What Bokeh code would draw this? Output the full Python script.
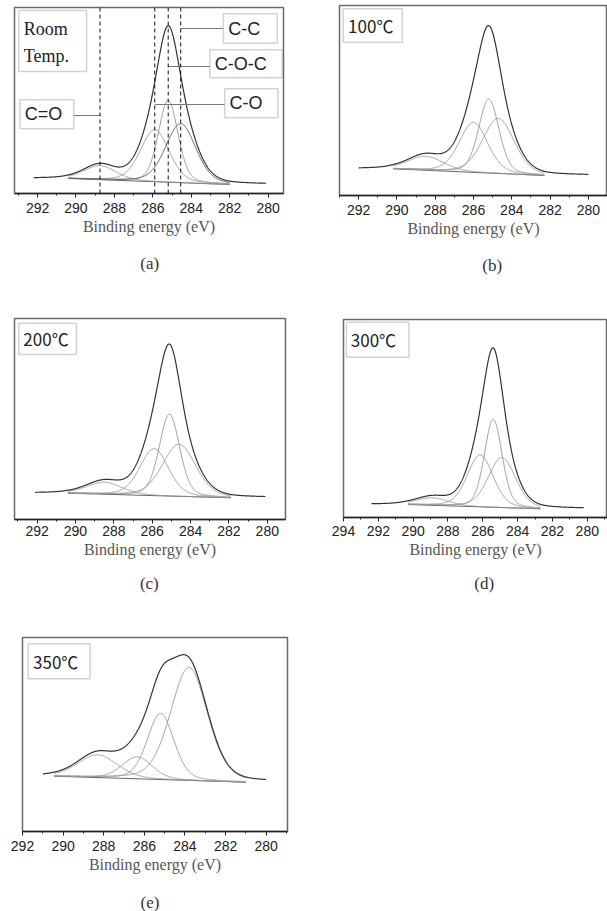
import numpy as np
from bokeh.plotting import figure
from bokeh.layouts import column, row
from bokeh.models import Range1d, SingleIntervalTicker, Span, BoxAnnotation, Label
from bokeh.embed import file_html
from bokeh.resources import INLINE

# ---------------- data ----------------
peak_names = ["C=O", "C-O", "C-O-C", "C-C"]
captions = ["(a)", "(b)", "(c)", "(d)", "(e)"]
temp_labels = ["Room Temp.", "100℃", "200℃", "300℃", "350℃"]
x_label = "Binding energy (eV)"

# measured scan range (eV)
scan_start = [292.2, 292.0, 292.1, 292.4, 291.0]
scan_end = [280.1, 280.0, 280.1, 280.2, 280.0]

# background (Shirley-like) end points: energy (eV) and level (a.u.)
bg_high_energy = [290.4, 290.2, 290.4, 290.3, 290.45]
bg_low_energy = [282.0, 282.3, 281.9, 282.7, 281.0]
bg_high_level = [15.0, 26.7, 26.3, 13.0, 55.3]
bg_low_level = [9.0, 20.0, 21.7, 8.7, 49.3]

# fitted Gauss-Lorentz components: order C=O, C-O, C-O-C, C-C
centers_rt = [288.75, 285.9, 285.2, 284.55]
heights_rt = [14.0, 52.0, 82.0, 59.0]
fwhm_rt = [2.0, 1.75, 1.2, 1.85]

centers_100 = [288.5, 286.0, 285.2, 284.7]
heights_100 = [14.0, 50.0, 74.0, 55.0]
fwhm_100 = [2.2, 1.75, 1.25, 1.95]

centers_200 = [288.5, 285.9, 285.1, 284.6]
heights_200 = [12.0, 47.0, 82.0, 52.0]
fwhm_200 = [2.2, 1.75, 1.25, 2.05]

centers_300 = [288.9, 286.15, 285.4, 284.9]
heights_300 = [7.5, 52.0, 88.0, 50.0]
fwhm_300 = [2.2, 1.75, 1.2, 1.85]

centers_350 = [288.3, 286.35, 285.2, 283.8]
heights_350 = [22.7, 22.0, 66.0, 113.0]
fwhm_350 = [2.3, 1.75, 1.55, 2.15]

lorentz_fraction = 0.25

centers = [centers_rt, centers_100, centers_200, centers_300, centers_350]
heights = [heights_rt, heights_100, heights_200, heights_300, heights_350]
fwhms = [fwhm_rt, fwhm_100, fwhm_200, fwhm_300, fwhm_350]

# ---------------- layout / style (not data) ----------------
# panel figure: size, frame borders (px), x range (eV), y range top, tick label standoff;
# caption strip below it: height, caption x (eV), caption centre from strip top (px)
geom = [
    dict(w=300, h=250, left=14, right=17, top=7, bottom=57, x0=293.2, x1=279.2, ymax=186,
         lab_so=5, cap_h=50, cap_x=286.16, cap_dy=13.0),
    dict(w=307, h=250, left=39, right=0, top=5, bottom=55, x0=293.0, x1=279.0, ymax=190,
         lab_so=5, cap_h=50, cap_x=285.02, cap_dy=15.0),
    dict(w=300, h=270, left=14, right=15, top=18, bottom=51, x0=293.18, x1=279.05, ymax=201,
         lab_so=2, cap_h=30, cap_x=286.15, cap_dy=13.3),
    dict(w=307, h=270, left=43, right=0, top=19, bottom=53, x0=294.0, x1=278.84, ymax=198,
         lab_so=4, cap_h=30, cap_x=285.92, cap_dy=13.3),
    dict(w=300, h=289, left=22, right=13, top=37, bottom=58, x0=292.0, x1=278.95, ymax=194,
         lab_so=5, cap_h=22, cap_x=285.72, cap_dy=12.7),
]
# temperature boxes for (b)-(e): left E, right E, top, bottom, text x
temp_boxes = [
    None,
    (292.81, 289.72, 186.7, 153.3, 292.55),
    (292.96, 289.95, 196.3, 165.0, 292.72),
    (293.83, 290.24, 195.3, 160.3, 293.58),
    (291.72, 288.67, 187.7, 152.7, 291.48),
]
# label boxes of panel (a): left E, right E, top, bottom, connector level
rt_boxes = {
    "C=O": (292.92, 290.11, 93.7, 64.7, 78.0),
    "C-O": (282.26, 279.49, 104.7, 75.7, 89.0),
    "C-O-C": (283.03, 279.26, 143.7, 115.7, 127.0),
    "C-C": (282.33, 279.52, 179.7, 150.3, 165.0),
}

SERIF = "Liberation Serif"
SANS = "Liberation Sans"
CJK = "Noto Sans CJK KR"


def glpeak(E, c, h, w):
    d2 = ((E - c) / w) ** 2
    gpart = np.exp(-4 * np.log(2) * d2)
    lpart = 1.0 / (1.0 + 4 * d2)
    return h * ((1 - lorentz_fraction) * gpart + lorentz_fraction * lpart)


def background(E, i):
    return np.interp(E, [bg_low_energy[i], bg_high_energy[i]],
                     [bg_low_level[i], bg_high_level[i]])


def caption_strip(i):
    g = geom[i]
    c = figure(width=g["w"], height=g["cap_h"],
               x_range=Range1d(g["x0"], g["x1"]), y_range=Range1d(0, g["cap_h"]),
               output_backend="svg", toolbar_location=None,
               x_axis_location=None, y_axis_location=None,
               min_border_left=g["left"], min_border_right=g["right"],
               min_border_top=0, min_border_bottom=0)
    c.xgrid.visible = False
    c.ygrid.visible = False
    c.outline_line_color = None
    c.background_fill_color = "white"
    c.border_fill_color = "white"
    c.add_layout(Label(x=g["cap_x"], y=g["cap_h"] - g["cap_dy"], text=captions[i],
                       text_font=SERIF, text_font_size="17px",
                       text_color="#333333", text_align="center",
                       text_baseline="middle"))
    return c


panels = []
for i in range(5):
    g = geom[i]
    p = figure(width=g["w"], height=g["h"],
               x_range=Range1d(g["x0"], g["x1"]), y_range=Range1d(0, g["ymax"]),
               output_backend="svg", toolbar_location=None, y_axis_location=None,
               min_border_left=g["left"], min_border_right=g["right"],
               min_border_top=g["top"], min_border_bottom=g["bottom"])
    p.xgrid.visible = False
    p.ygrid.visible = False
    p.background_fill_color = "white"
    p.border_fill_color = "white"
    p.outline_line_color = "#6a6a6a"
    p.outline_line_width = 1.5

    ax = p.xaxis[0]
    ax.ticker = SingleIntervalTicker(interval=2, num_minor_ticks=2)
    ax.axis_line_color = "#222222"
    ax.axis_line_width = 1.5
    ax.major_tick_in = 0
    ax.major_tick_out = 4
    ax.minor_tick_in = 0
    ax.minor_tick_out = 2
    ax.major_tick_line_color = "#222222"
    ax.minor_tick_line_color = "#222222"
    ax.major_label_text_font = SANS
    ax.major_label_text_font_size = "14px"
    ax.major_label_text_color = "#222222"
    ax.major_label_standoff = g["lab_so"]
    ax.axis_label = x_label
    ax.axis_label_text_font = SERIF
    ax.axis_label_text_font_size = "16px"
    ax.axis_label_text_font_style = "normal"
    ax.axis_label_text_color = "#555555"
    ax.axis_label_standoff = 2

    # background
    p.line([bg_high_energy[i], bg_low_energy[i]], [bg_high_level[i], bg_low_level[i]],
           line_color="#666666", line_width=1)

    # components
    Ec = np.linspace(bg_high_energy[i], bg_low_energy[i], 700)
    bc = background(Ec, i)
    for k in range(4):
        col = "#555555" if (i == 0 and k == 3) else "#999999"
        p.line(Ec, bc + glpeak(Ec, centers[i][k], heights[i][k], fwhms[i][k]),
               line_color=col, line_width=1)

    # measured envelope
    Er = np.linspace(scan_start[i], scan_end[i], 1200)
    yr = background(Er, i)
    for k in range(4):
        yr = yr + glpeak(Er, centers[i][k], heights[i][k], fwhms[i][k])
    p.line(Er, yr, line_color="#333333", line_width=1.2)

    if i == 0:
        for k, name in enumerate(peak_names):
            c = centers[i][k]
            p.add_layout(Span(location=c, dimension="height", line_dash="4 3",
                              line_color="#111111", line_width=1))
            l, r, t, b, lev = rt_boxes[name]
            edge = r if l > c else l
            p.segment(x0=[c], y0=[lev], x1=[edge], y1=[lev], line_color="#777777", line_width=1)
            p.add_layout(BoxAnnotation(left=l, right=r, top=t, bottom=b,
                                       fill_color="white", fill_alpha=1,
                                       line_color="#6a6a6a", line_width=1.5))
            p.add_layout(Label(x=l - 0.25, y=(t + b) / 2, text=name,
                               text_font=SANS, text_font_size="18px",
                               text_color="#222222", text_align="left",
                               text_baseline="middle"))
        # Room Temp. box
        p.add_layout(BoxAnnotation(left=292.98, right=289.45, top=183, bottom=122,
                                   fill_color="white", fill_alpha=1,
                                   line_color="#6a6a6a", line_width=1.5))
        room, temp = temp_labels[0].split(" ")
        p.add_layout(Label(x=292.72, y=164.7, text=room, text_font=SERIF,
                           text_font_size="18px", text_color="#222222",
                           text_align="left", text_baseline="middle"))
        p.add_layout(Label(x=292.72, y=138.0, text=temp, text_font=SERIF,
                           text_font_size="18px", text_color="#222222",
                           text_align="left", text_baseline="middle"))
    else:
        l, r, t, b, tx = temp_boxes[i]
        p.add_layout(BoxAnnotation(left=l, right=r, top=t, bottom=b,
                                   fill_color="white", fill_alpha=1,
                                   line_color="#6a6a6a", line_width=1.5))
        p.add_layout(Label(x=tx, y=(t + b) / 2, text=temp_labels[i], text_font=CJK,
                           text_font_size="17px", text_color="#222222",
                           text_align="left", text_baseline="middle"))
    panels.append(column(p, caption_strip(i)))

layout = column(row(panels[0], panels[1]), row(panels[2], panels[3]), row(panels[4]))
open("out.html", "w").write(file_html(layout, INLINE))
